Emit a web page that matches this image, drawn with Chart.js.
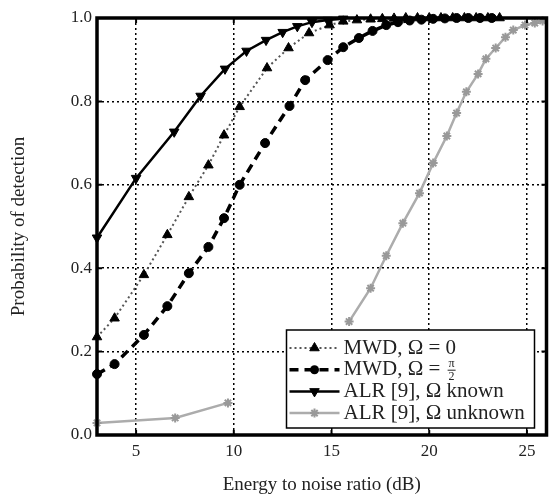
<!DOCTYPE html>
<html>
<head>
<meta charset="utf-8">
<script src="https://cdn.jsdelivr.net/npm/chart.js@4.4.0/dist/chart.umd.min.js"></script>
<style>
  html, body { margin: 0; padding: 0; background: #fff; }
  canvas { display: block; }
</style>
</head>
<body>
<canvas id="pd" width="553" height="496"></canvas>
<script>
// tick positions
const xTicks = [5, 10, 15, 20, 25];
const yTicks = [0, 0.2, 0.4, 0.6, 0.8, 1.0];

// MWD, Omega = 0
const mwd0X = [3, 3.9, 5.4, 6.6, 7.7, 8.7, 9.5, 10.3, 11.7, 12.8, 13.85, 14.9, 15.6, 16.3, 17.0, 17.6, 18.2, 18.8, 19.4, 20.0, 20.6, 21.2, 21.8, 22.4, 23.0, 23.6];
const mwd0Y = [0.235, 0.28, 0.384, 0.48, 0.571, 0.647, 0.719, 0.787, 0.88, 0.928, 0.964, 0.983, 0.992, 0.995, 0.997, 0.998, 0.999, 1, 1, 1, 1, 1, 1, 1, 1, 1];

// MWD, Omega = pi/2
const mwdHalfX = [3, 3.9, 5.4, 6.6, 7.7, 8.7, 9.5, 10.3, 11.6, 12.85, 13.65, 14.8, 15.6, 16.4, 17.1, 17.8, 18.4, 19.0, 19.6, 20.2, 20.8, 21.4, 22.0, 22.6, 23.2];
const mwdHalfY = [0.146, 0.17, 0.24, 0.309, 0.388, 0.451, 0.52, 0.6, 0.70, 0.789, 0.851, 0.899, 0.93, 0.952, 0.969, 0.983, 0.99, 0.994, 0.996, 0.998, 0.999, 1, 1, 1, 1];

// ALR [9], Omega known
const alrKnownX = [3, 5, 6.95, 8.3, 9.55, 10.65, 11.65, 12.5, 13.25, 14.0, 14.8, 15.6];
const alrKnownY = [0.473, 0.616, 0.727, 0.813, 0.878, 0.921, 0.947, 0.966, 0.98, 0.99, 0.995, 0.998];

// ALR [9], Omega unknown (null = no curve drawn there)
const alrUnkX = [3, 7, 9.7, 12, 15.9, 17.0, 17.8, 18.65, 19.5, 20.2, 20.9, 21.4, 21.9, 22.5, 22.9, 23.4, 23.9, 24.3, 24.9, 25.4, 25.8];
const alrUnkY = [0.029, 0.041, 0.077, null, 0.272, 0.352, 0.43, 0.508, 0.58, 0.652, 0.717, 0.772, 0.823, 0.866, 0.902, 0.928, 0.954, 0.971, 0.983, 0.988, 0.993];

const pts = (xs, ys) => xs.map((x, i) => ({ x: x, y: ys[i] }));

const serif = 'Liberation Serif';
const textColor = '#222';
const gray = '#acacac';

const series = [
  { label: 'MWD, Ω = 0', data: pts(mwd0X, mwd0Y), color: '#555', width: 2, dash: [2, 3], point: 'triangle', rot: 0, radius: 5.5, pointColor: '#000' },
  { label: 'MWD, Ω = π/2', data: pts(mwdHalfX, mwdHalfY), color: '#000', width: 3.5, dash: [9, 6], point: 'circle', rot: 0, radius: 4.5, pointColor: '#000' },
  { label: 'ALR [9], Ω known', data: pts(alrKnownX, alrKnownY), color: '#000', width: 2.5, dash: [], point: 'triangle', rot: 180, radius: 5.5, pointColor: '#000' },
  { label: 'ALR [9], Ω unknown', data: pts(alrUnkX, alrUnkY), color: gray, width: 2.5, dash: [], point: 'star', rot: 0, radius: 4.5, pointColor: '#999' }
];

function drawMarker(ctx, s, x, y) {
  const r = s.radius;
  ctx.save();
  ctx.fillStyle = s.pointColor;
  ctx.strokeStyle = s.pointColor;
  ctx.lineWidth = s.point === 'star' ? 2 : 1;
  ctx.setLineDash([]);
  ctx.beginPath();
  if (s.point === 'circle') {
    ctx.arc(x, y, r, 0, Math.PI * 2);
    ctx.fill();
  } else if (s.point === 'triangle') {
    const dir = s.rot === 180 ? -1 : 1;
    ctx.moveTo(x, y - dir * r);
    ctx.lineTo(x + r * 0.866, y + dir * r * 0.5);
    ctx.lineTo(x - r * 0.866, y + dir * r * 0.5);
    ctx.closePath();
    ctx.fill();
    ctx.stroke();
  } else {
    for (let k = 0; k < 4; k++) {
      const a = k * Math.PI / 4;
      ctx.moveTo(x - r * Math.cos(a), y - r * Math.sin(a));
      ctx.lineTo(x + r * Math.cos(a), y + r * Math.sin(a));
    }
    ctx.stroke();
  }
  ctx.restore();
}

const frame = {
  id: 'frame',
  afterDatasetsDraw(chart) {
    const { ctx, chartArea: a, scales } = chart;
    ctx.save();
    ctx.strokeStyle = '#000';
    ctx.lineWidth = 2;
    ctx.beginPath();
    xTicks.forEach(v => {
      const px = scales.x.getPixelForValue(v);
      ctx.moveTo(px, a.bottom); ctx.lineTo(px, a.bottom - 5);
      ctx.moveTo(px, a.top); ctx.lineTo(px, a.top + 5);
    });
    yTicks.forEach(v => {
      const py = scales.y.getPixelForValue(v);
      ctx.moveTo(a.left, py); ctx.lineTo(a.left + 5, py);
      ctx.moveTo(a.right, py); ctx.lineTo(a.right - 5, py);
    });
    ctx.stroke();
    ctx.lineWidth = 3.5;
    ctx.strokeRect(a.left, a.top, a.right - a.left, a.bottom - a.top);
    ctx.restore();
  }
};

const legendBox = {
  id: 'legendBox',
  afterDraw(chart) {
    const { ctx, chartArea: a } = chart;
    const bw = 248, bh = 98;
    const bx = a.right - 12 - bw, by = a.bottom - 7 - bh;
    ctx.save();
    ctx.fillStyle = '#fff';
    ctx.fillRect(bx, by, bw, bh);
    ctx.strokeStyle = '#000';
    ctx.lineWidth = 1.5;
    ctx.strokeRect(bx, by, bw, bh);
    ctx.font = '21px "' + serif + '"';
    ctx.textBaseline = 'middle';
    series.forEach((s, i) => {
      const y = by + 18 + i * 21.7;
      ctx.save();
      ctx.strokeStyle = s.color;
      ctx.lineWidth = s.width;
      ctx.setLineDash(s.dash);
      ctx.beginPath();
      ctx.moveTo(bx + 3, y);
      ctx.lineTo(bx + 53, y);
      ctx.stroke();
      ctx.restore();
      drawMarker(ctx, s, bx + 28, y);
      ctx.fillStyle = textColor;
      const tx = bx + 57;
      if (i === 1) {
        const head = 'MWD, Ω = ';
        ctx.fillText(head, tx, y);
        const fx = tx + ctx.measureText(head).width + 6;
        ctx.font = '12px "' + serif + '"';
        ctx.textAlign = 'center';
        ctx.fillText('π', fx, y - 6);
        ctx.fillText('2', fx, y + 7);
        ctx.fillRect(fx - 4, y, 8, 1);
        ctx.textAlign = 'left';
        ctx.font = '21px "' + serif + '"';
      } else {
        ctx.fillText(s.label, tx, y);
      }
    });
    ctx.restore();
  }
};

new Chart(document.getElementById('pd'), {
  type: 'line',
  data: {
    datasets: series.map(s => ({
      label: s.label,
      data: s.data,
      borderColor: s.color,
      borderWidth: s.width,
      borderDash: s.dash,
      pointStyle: s.point,
      rotation: s.rot,
      pointRadius: s.radius,
      pointBackgroundColor: s.pointColor,
      pointBorderColor: s.pointColor,
      pointBorderWidth: s.point === 'star' ? 2 : 1,
      tension: 0,
      spanGaps: false,
      clip: 10
    }))
  },
  options: {
    responsive: false,
    animation: false,
    layout: { padding: { top: 18, right: 3, left: 0, bottom: 0 } },
    plugins: { legend: { display: false }, tooltip: { enabled: false } },
    scales: {
      x: {
        type: 'linear',
        min: 3,
        max: 26,
        afterBuildTicks: s => { s.ticks = xTicks.map(v => ({ value: v })); },
        afterFit: s => { s.height = 61; },
        grid: { color: '#000', lineWidth: 1.5, drawTicks: false },
        border: { display: false, dash: [2, 3] },
        ticks: { color: textColor, font: { family: serif, size: 17 }, padding: 6, maxRotation: 0, autoSkip: false },
        title: { display: true, text: 'Energy to noise ratio (dB)', color: textColor, font: { family: serif, size: 19 }, padding: { top: 7, bottom: 0 } }
      },
      y: {
        type: 'linear',
        min: 0,
        max: 1,
        afterBuildTicks: s => { s.ticks = yTicks.map(v => ({ value: v })); },
        afterFit: s => { s.width = 97; },
        grid: { color: '#000', lineWidth: 1.5, drawTicks: false },
        border: { display: false, dash: [2, 3] },
        ticks: { color: textColor, font: { family: serif, size: 17 }, padding: 5, callback: v => v.toFixed(1) },
        title: { display: true, text: 'Probability of detection', color: textColor, font: { family: serif, size: 19 }, padding: { top: 8, bottom: 0 } }
      }
    }
  },
  plugins: [frame, legendBox]
});
</script>
</body>
</html>
